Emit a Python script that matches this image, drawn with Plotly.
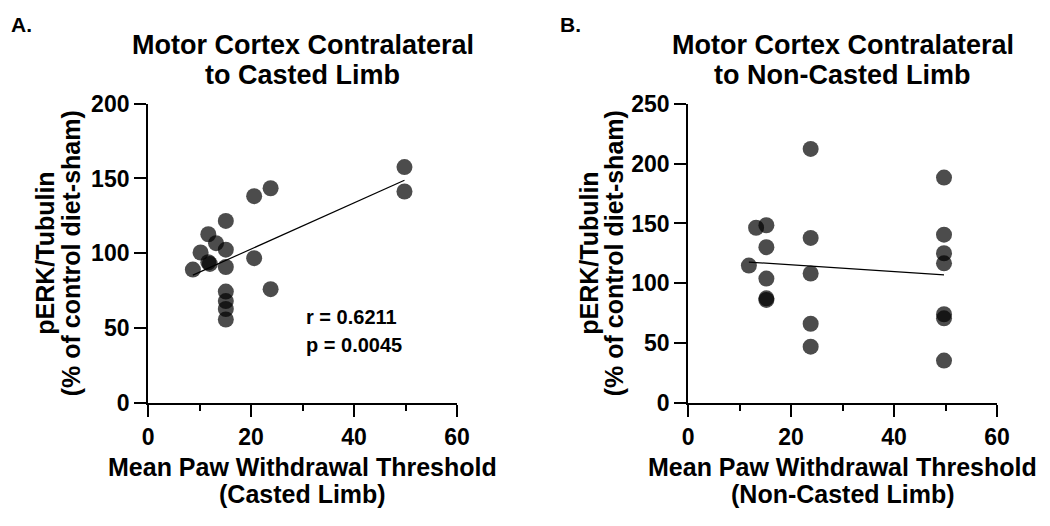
import numpy as np
import plotly.graph_objects as go

# ---- data ----
xa = [49.8, 49.8, 23.8, 20.6, 15.1, 11.7, 13.2, 10.2, 15.1, 11.7, 12.0, 20.6, 8.7, 15.1, 23.8, 15.1, 15.1, 15.1, 15.1]
ya = [157.6, 141.3, 143.5, 138.2, 121.7, 112.8, 106.8, 100.6, 102.5, 94.1, 93.0, 96.8, 89.2, 90.9, 76.1, 74.5, 68.2, 62.9, 55.9]

xb = [23.8, 49.7, 13.2, 15.2, 23.8, 49.7, 15.2, 11.8, 49.7, 49.7, 23.8, 15.2, 15.2, 15.2, 23.8, 23.8, 49.7, 49.7, 49.7]
yb = [212.2, 188.3, 146.4, 148.5, 137.9, 140.6, 130.2, 114.8, 125.1, 116.7, 108.2, 104.0, 87.5, 86.2, 66.3, 47.2, 74.2, 70.8, 35.6]

x_ticks = [0, 20, 40, 60]
ya_ticks = [0, 50, 100, 150, 200]
yb_ticks = [0, 50, 100, 150, 200, 250]

title_a = ["Motor Cortex Contralateral", "to Casted Limb"]
title_b = ["Motor Cortex Contralateral", "to Non-Casted Limb"]
xlab_a = ["Mean Paw Withdrawal Threshold", "(Casted Limb)"]
xlab_b = ["Mean Paw Withdrawal Threshold", "(Non-Casted Limb)"]
ylab = ["pERK/Tubulin", "(% of control diet-sham)"]
stats_a = ["r = 0.6211", "p = 0.0045"]

FONT = "Liberation Sans, Arial, sans-serif"
W, H = 1050, 526

def fit_line(x, y):
    x = np.asarray(x, float)
    y = np.asarray(y, float)
    m, b = np.polyfit(x, y, 1)
    xs = np.array([x.min(), x.max()])
    return xs, m * xs + b

fig = go.Figure()
marker = dict(size=16, color="black", opacity=0.7, line=dict(width=0))

fig.add_trace(go.Scatter(x=xa, y=ya, mode="markers", marker=marker, xaxis="x", yaxis="y", showlegend=False))
lx, ly = fit_line(xa, ya)
fig.add_trace(go.Scatter(x=lx, y=ly, mode="lines", line=dict(color="black", width=1.2), xaxis="x", yaxis="y", showlegend=False))

fig.add_trace(go.Scatter(x=xb, y=yb, mode="markers", marker=marker, xaxis="x2", yaxis="y2", showlegend=False))
lx, ly = fit_line(xb, yb)
fig.add_trace(go.Scatter(x=lx, y=ly, mode="lines", line=dict(color="black", width=1.2), xaxis="x2", yaxis="y2", showlegend=False))

tickfont = dict(family=FONT, size=23, color="black", weight=700)
common = dict(showgrid=False, zeroline=False, showline=True, linewidth=2, linecolor="black",
              ticks="outside", ticklen=12, tickwidth=2, tickcolor="black", tickfont=tickfont)

ydom = [1 - 410.5 / H, 1 - 95.3 / H]
xa_dom = [144.7 / W, 459.3 / W]
xb_dom = [694.7 / W, 1009.3 / W]

fig.update_layout(
    width=W, height=H, autosize=False,
    margin=dict(l=0, r=0, t=0, b=0),
    paper_bgcolor="white", plot_bgcolor="white",
    xaxis=dict(domain=xa_dom, range=[0, 60], tickvals=x_ticks, anchor="y",
               minor=dict(ticks="outside", ticklen=6, tickwidth=2, tickcolor="black", dtick=10, showgrid=False),
               **common),
    yaxis=dict(domain=ydom, range=[0, 200], tickvals=ya_ticks, anchor="x", **common),
    xaxis2=dict(domain=xb_dom, range=[0, 60], tickvals=x_ticks, anchor="y2",
                minor=dict(ticks="outside", ticklen=6, tickwidth=2, tickcolor="black", dtick=10, showgrid=False),
                **common),
    yaxis2=dict(domain=ydom, range=[0, 250], tickvals=yb_ticks, anchor="x2", **common),
)

def txt(x, y, s, size, angle=0, xanchor="center"):
    fig.add_annotation(x=x / W, y=1 - y / H, xref="paper", yref="paper", text=s, showarrow=False,
                       font=dict(family=FONT, size=size, color="black", weight=700),
                       xanchor=xanchor, yanchor="middle", textangle=angle)

# panel letters
txt(3, 12, "A.", 21, xanchor="left")
txt(562, 12, "B.", 21, xanchor="left")

# titles
cx_a = (xa_dom[0] + xa_dom[1]) / 2 * W
cx_b = (xb_dom[0] + xb_dom[1]) / 2 * W
for i, (ta, tb) in enumerate(zip(title_a, title_b)):
    txt(cx_a, 34 + 31 * i, ta, 27)
    txt(cx_b, 34 + 31 * i, tb, 27)

# x-axis titles
for i, (la, lb) in enumerate(zip(xlab_a, xlab_b)):
    txt(cx_a, 478 + 28 * i, la, 25)
    txt(cx_b, 478 + 28 * i, lb, 25)

# y-axis titles
for i, s in enumerate(ylab):
    txt(40 + 27 * i, 253, s, 25, angle=-90)
    txt(594 + 26 * i, 253, s, 25, angle=-90)

# correlation statistics
for i, s in enumerate(stats_a):
    txt(303, 320 + 29 * i, s, 20, xanchor="left")

post = (
    "document.documentElement.style.margin='0';document.documentElement.style.overflow='hidden';"
    "document.body.style.margin='0';document.body.style.padding='0';document.body.style.overflow='hidden';"
    "var d=document.getElementById('{plot_id}');d.style.position='fixed';d.style.left='0px';d.style.top='0px';"
)
fig.write_html("out.html", config={"displayModeBar": False}, post_script=post)
